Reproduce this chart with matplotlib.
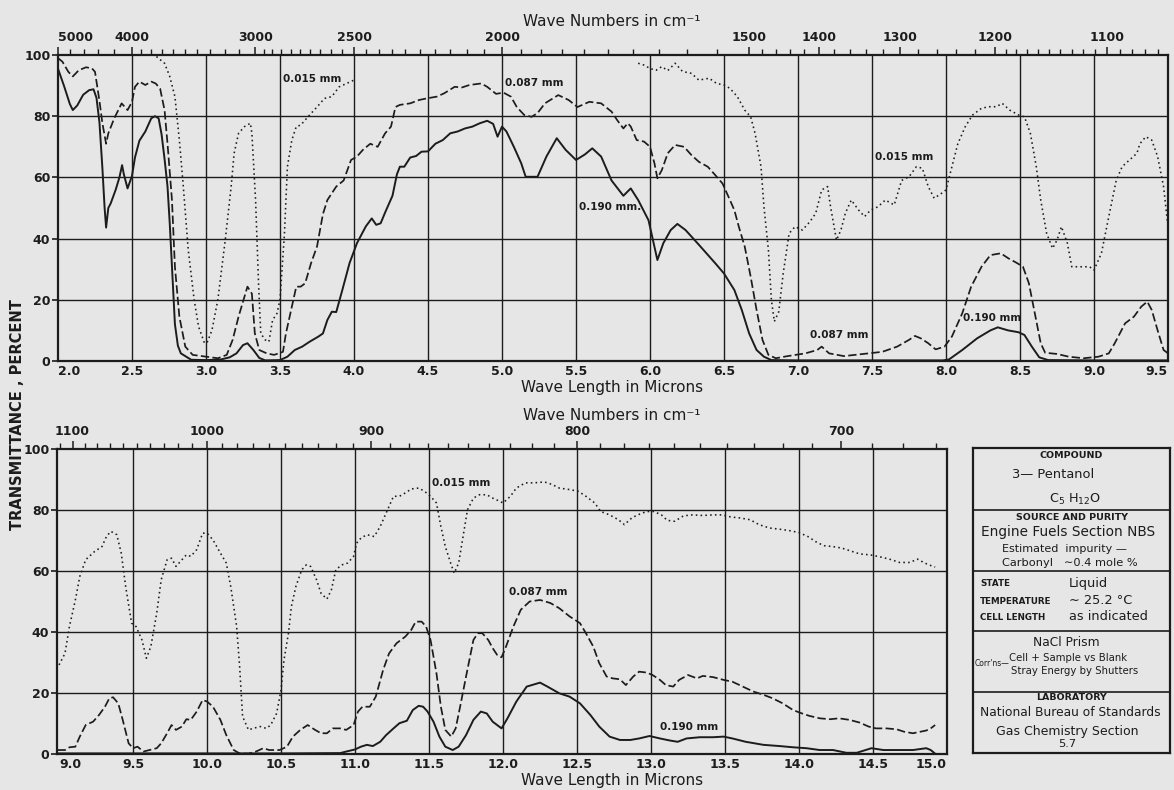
import matplotlib
matplotlib.use('Agg')
import matplotlib.pyplot as plt

# ---------------- DATA ----------------
# Upper panel (2.0 - 9.5 microns), transmittance %
solid_top_x = [2.00, 2.04, 2.08, 2.10, 2.13, 2.17, 2.21, 2.24, 2.26, 2.28, 2.30, 2.315, 2.325, 2.34, 2.356,
               2.39, 2.415, 2.433, 2.445, 2.47, 2.50, 2.52, 2.55, 2.59, 2.63, 2.655, 2.68, 2.70, 2.72, 2.74,
               2.755, 2.77, 2.79, 2.81, 2.83, 2.90, 3.00, 3.10, 3.16, 3.206, 3.25, 3.28, 3.32, 3.36, 3.40,
               3.50, 3.55, 3.60, 3.65, 3.70, 3.76, 3.79, 3.82, 3.85, 3.88, 3.92, 3.97, 4.02, 4.08, 4.12,
               4.15, 4.18, 4.21, 4.26, 4.29, 4.31, 4.34, 4.38, 4.42, 4.456, 4.50, 4.55, 4.60, 4.65, 4.70,
               4.75, 4.80, 4.85, 4.90, 4.94, 4.97, 5.00, 5.03, 5.08, 5.13, 5.16, 5.20, 5.24, 5.30, 5.37,
               5.43, 5.50, 5.56, 5.61, 5.67, 5.74, 5.82, 5.87, 5.92, 5.99, 6.03, 6.05, 6.09, 6.14, 6.185,
               6.24, 6.33, 6.44, 6.50, 6.57, 6.62, 6.67, 6.72, 6.77, 6.82, 7.00, 7.50, 7.98, 8.02, 8.11,
               8.21, 8.30, 8.35, 8.42, 8.49, 8.53, 8.58, 8.63, 8.69, 9.00, 9.50]
solid_top_y = [95.5, 90, 84, 82, 83.5, 87, 88.5, 88.8, 86, 78, 63, 50, 43.6, 50, 51.5,
               56, 60, 64, 61, 56.4, 60.5, 66.5, 72, 75, 79.3, 80, 79.3, 74, 66, 57,
               45, 31, 12, 5, 2.5, 0.4, 0.3, 0.5, 1.2, 2.5, 5.2, 5.8, 3.6, 1.0, 0.2,
               0.3, 1.4, 3.6, 4.7, 6.3, 8, 9, 13.4, 16.1, 16, 23, 32, 38.5, 44, 46.6,
               44.5, 45, 48.5, 54, 61, 63.5, 63.5, 66.5, 67, 68.4, 68.5, 71, 72.2, 74.4, 75,
               76, 76.6, 77.7, 78.5, 77.5, 73.3, 76.6, 75, 70, 64.6, 60.2, 60.2, 60.2, 66.8, 72.8,
               69, 65.7, 67.5, 69.5, 66.8, 59, 54, 56.4, 52.6, 46, 37.4, 33, 38.5, 42.8, 44.8,
               42.8, 38, 32, 28.6, 23.2, 16.7, 9, 3.6, 1.4, 0.3, 0.2, 0.2, 0.2, 0.5, 3.6,
               7.4, 10, 11, 10, 9.4, 8.5, 4.7, 1.2, 0.3, 0.2, 0.2]

dash_top_x = [2.00, 2.03, 2.07, 2.10, 2.14, 2.19, 2.23, 2.25, 2.28, 2.30, 2.325, 2.34, 2.38, 2.43, 2.47,
              2.50, 2.52, 2.55, 2.59, 2.63, 2.66, 2.69, 2.72, 2.74, 2.77, 2.79, 2.82, 2.86, 2.91, 3.00,
              3.08, 3.14, 3.18, 3.22, 3.26, 3.28, 3.31, 3.33, 3.36, 3.41, 3.46, 3.52, 3.54, 3.57, 3.61,
              3.64, 3.67, 3.71, 3.75, 3.79, 3.82, 3.88, 3.93, 3.98, 4.02, 4.06, 4.11, 4.16, 4.21, 4.25,
              4.28, 4.31, 4.38, 4.44, 4.49, 4.56, 4.61, 4.68, 4.73, 4.78, 4.86, 4.90, 4.96, 5.01, 5.06,
              5.10, 5.15, 5.20, 5.24, 5.29, 5.38, 5.45, 5.51, 5.59, 5.67, 5.74, 5.78, 5.82, 5.85, 5.87,
              5.91, 5.96, 6.00, 6.03, 6.05, 6.08, 6.12, 6.17, 6.23, 6.28, 6.33, 6.39, 6.44, 6.49, 6.53,
              6.57, 6.60, 6.64, 6.68, 6.72, 6.76, 6.80, 6.85, 6.93, 7.05, 7.13, 7.16, 7.21, 7.31, 7.44,
              7.57, 7.67, 7.75, 7.79, 7.83, 7.88, 7.93, 7.99, 8.04, 8.11, 8.17, 8.24, 8.30, 8.37, 8.42,
              8.48, 8.52, 8.56, 8.60, 8.64, 8.67, 8.75, 8.83, 8.93, 9.03, 9.10, 9.14, 9.21, 9.27, 9.32,
              9.36, 9.39, 9.43, 9.47, 9.50]
dash_top_y = [99, 97.8, 94.5, 93, 95, 96, 95.6, 94.5, 85, 77.7, 71, 74.4, 79.3, 84.2, 82,
              84.7, 89.6, 91.3, 90.2, 91.3, 90.7, 89, 82, 71, 52.6, 30.8, 14.5, 4.7, 2, 1.4,
              0.9, 2, 6.9, 14.5, 21, 24.3, 22, 9, 3.6, 2.5, 2, 3, 9, 15.6, 24.3,
              24.3, 25.4, 32, 37.4, 48, 52.6, 57, 59, 65.7, 66.8, 69, 71, 70, 74.4, 76.6,
              83, 83.7, 84.2, 85.3, 85.8, 86.4, 87.5, 89.6, 89.4, 90.2, 90.7, 89.6, 87.3, 87.7, 86.4,
              83, 80.4, 79.8, 81, 84.2, 86.9, 85.3, 83, 84.7, 84.2, 81.5, 78.6, 76, 77.7, 76.6,
              72.2, 71.7, 70, 64.6, 59.7, 62.4, 67.9, 70.6, 70, 67.3, 65.1, 63.5, 60.8, 58, 53.7,
              49.3, 43.9, 37.4, 27.6, 16.7, 6.9, 2, 0.9, 1.6, 2.5, 3.6, 4.7, 2.5, 1.6, 2.3,
              3, 4.7, 6.9, 8.2, 7.4, 5.8, 3.8, 4.7, 8, 15.6, 24.3, 30.8, 34.6, 35.2, 33.6,
              32, 30.8, 25.4, 15.6, 5.8, 2.7, 2.3, 1.4, 0.9, 1.4, 2.5, 5.8, 12.3, 14.5, 17.8,
              19.4, 16.7, 10, 3.6, 2.5]

dot_top_a_x = [2.665, 2.72, 2.755, 2.79, 2.82, 2.845, 2.88, 2.92, 2.95, 2.99, 3.01, 3.04, 3.08, 3.13,
               3.17, 3.19, 3.22, 3.26, 3.30, 3.31, 3.335, 3.355, 3.37, 3.40, 3.425, 3.45, 3.48, 3.50,
               3.53, 3.55, 3.58, 3.61, 3.64, 3.70, 3.75, 3.80, 3.85, 3.90, 3.95, 4.00]
dot_top_a_y = [99.5, 97.3, 93, 86.4, 72.2, 58, 36.3, 20, 11.2, 5.8, 6.3, 10, 20, 39.5,
               57, 67.9, 74.4, 76.6, 77.7, 74.4, 52.6, 25.4, 9, 6.9, 6.3, 13.4, 15.6, 20,
               41.6, 63.5, 72.2, 76.6, 77.1, 80.4, 83, 85.8, 86.4, 89.6, 90.7, 91.8]
dot_top_b_x = [5.92, 5.96, 6.00, 6.04, 6.08, 6.12, 6.17, 6.22, 6.28, 6.33, 6.40, 6.45, 6.50, 6.54,
               6.59, 6.64, 6.68, 6.71, 6.75, 6.77, 6.80, 6.82, 6.84, 6.87, 6.90, 6.94, 6.98, 7.03,
               7.08, 7.12, 7.16, 7.20, 7.22, 7.26, 7.29, 7.32, 7.36, 7.41, 7.45, 7.49, 7.54, 7.59,
               7.65, 7.70, 7.75, 7.80, 7.84, 7.88, 7.92, 7.97, 8.00, 8.04, 8.08, 8.13, 8.18, 8.24,
               8.29, 8.34, 8.38, 8.43, 8.49, 8.53, 8.57, 8.61, 8.64, 8.68, 8.72, 8.75, 8.78, 8.82,
               8.85, 8.91, 8.97, 9.00, 9.05, 9.10, 9.15, 9.19, 9.24, 9.29, 9.31, 9.35, 9.39, 9.43,
               9.47, 9.50]
dot_top_b_y = [97.3, 96.7, 95.6, 95, 96.2, 94.9, 97.3, 94.6, 94, 91.8, 92.4, 90.7, 90.2, 89.1,
               86.4, 82, 79.8, 74.4, 63.5, 50.4, 36.3, 20, 12.9, 16.1, 28.6, 41.7, 43.9, 42.8,
               45.5, 48.3, 55.9, 57, 50.4, 39.5, 42.8, 48.3, 52.6, 49.3, 47.2, 49.3, 50.4, 52.6,
               51, 59, 60.2, 63.5, 63, 57, 53.2, 54.8, 55.9, 63.5, 71, 76.6, 80.4, 82.6,
               83.1, 83.1, 84.2, 82, 80.4, 79.8, 74.4, 63.5, 52.6, 41.7, 36.8, 39.5, 43.9, 38.5,
               30.8, 30.8, 30.8, 29.7, 35.2, 47.2, 59, 63.5, 65.7, 67.9, 71, 73.3, 72.2, 66.8,
               57, 43.9]

# Lower panel (9.0 - 15.0 microns)
dot_bot_x = [9.00, 9.04, 9.07, 9.11, 9.14, 9.18, 9.24, 9.29, 9.32, 9.35, 9.39, 9.42, 9.45, 9.49, 9.52,
             9.56, 9.59, 9.62, 9.66, 9.69, 9.73, 9.76, 9.79, 9.83, 9.86, 9.89, 9.93, 9.97, 10.00, 10.04,
             10.09, 10.13, 10.16, 10.20, 10.22, 10.24, 10.28, 10.31, 10.36, 10.40, 10.43, 10.47, 10.50,
             10.52, 10.55, 10.57, 10.60, 10.64, 10.67, 10.70, 10.74, 10.77, 10.81, 10.84, 10.87, 10.91,
             10.95, 10.99, 11.01, 11.04, 11.08, 11.13, 11.17, 11.21, 11.26, 11.30, 11.34, 11.38, 11.43,
             11.47, 11.51, 11.55, 11.58, 11.61, 11.65, 11.67, 11.70, 11.73, 11.76, 11.80, 11.84, 11.89,
             11.93, 11.98, 12.00, 12.05, 12.09, 12.15, 12.21, 12.28, 12.33, 12.38, 12.45, 12.51, 12.56,
             12.62, 12.66, 12.72, 12.78, 12.82, 12.87, 12.91, 12.97, 13.02, 13.07, 13.11, 13.16, 13.22,
             13.28, 13.35, 13.42, 13.48, 13.54, 13.60, 13.67, 13.73, 13.80, 13.87, 13.94, 14.00, 14.06,
             14.12, 14.17, 14.23, 14.29, 14.34, 14.41, 14.48, 14.55, 14.61, 14.68, 14.75, 14.80, 14.85,
             14.89, 14.92]
dot_bot_y = [29.2, 33, 41.8, 50.5, 58.2, 63.7, 66.4, 68, 71.3, 73, 71.9, 65.9, 54.9, 42.9, 41.8,
             37.4, 31.4, 35.2, 46.2, 57.1, 63.7, 64.2, 61.5, 63.7, 65.3, 64.8, 67, 72.4, 72.4, 70.2,
             65.9, 62.6, 54.9, 41.8, 28.7, 12.3, 7.9, 8.4, 9, 8.4, 9.5, 13.3, 21,
             30.9, 39.6, 48.4, 54.9, 60.4, 62, 61.5, 57.1, 52.7, 50.8, 53.8, 60.4, 62,
             62.6, 64.8, 69.1, 70.8, 71.9, 71.3, 74.6, 79, 84.5, 84.5, 85.6, 86.9, 87.2,
             86.1, 84.5, 82.3, 74.6, 68, 62, 59.3, 62.6, 71.3, 80.1, 83.9, 85, 85,
             83.9, 82.8, 82.3, 84.5, 87.2, 88.9, 88.9, 89.2, 88.4, 87.2, 86.7, 86.1, 84.5,
             82.3, 79.5, 78.4, 76.8, 75.2, 77.4, 78.4, 79.5, 79.5, 78.4, 76.6, 76.3, 78.1,
             78.4, 78.2, 78.4, 78.4, 77.7, 77.4, 76.8, 75.2, 74.1, 73.7, 73.2, 72.6, 71.3,
             69.4, 68.3, 68, 67.5, 66.7, 65.6, 65.3, 64.6, 63.9, 62.8, 62.8, 63.9, 62.6,
             61.8, 61.3]

dash_bot_x = [8.99, 9.04, 9.07, 9.11, 9.14, 9.18, 9.23, 9.27, 9.31, 9.34, 9.365, 9.40, 9.43, 9.47, 9.50,
              9.53, 9.57, 9.61, 9.66, 9.69, 9.73, 9.76, 9.79, 9.83, 9.86, 9.89, 9.93, 9.97, 10.00, 10.04,
              10.09, 10.13, 10.18, 10.22, 10.28, 10.33, 10.38, 10.42, 10.49, 10.54, 10.58, 10.63, 10.68,
              10.73, 10.77, 10.81, 10.85, 10.90, 10.94, 10.99, 11.02, 11.05, 11.10, 11.14, 11.19, 11.23,
              11.28, 11.34, 11.38, 11.41, 11.45, 11.48, 11.51, 11.55, 11.58, 11.61, 11.65, 11.68, 11.71,
              11.75, 11.80, 11.83, 11.86, 11.90, 11.93, 11.96, 11.99, 12.02, 12.07, 12.12, 12.18, 12.25,
              12.32, 12.38, 12.45, 12.52, 12.56, 12.61, 12.65, 12.70, 12.74, 12.79, 12.83, 12.88, 12.92,
              12.97, 13.01, 13.06, 13.10, 13.15, 13.19, 13.25, 13.31, 13.35, 13.42, 13.49, 13.55, 13.62,
              13.69, 13.76, 13.82, 13.89, 13.96, 14.02, 14.07, 14.14, 14.21, 14.27, 14.34, 14.41, 14.47,
              14.52, 14.59, 14.66, 14.71, 14.77, 14.82, 14.86, 14.89, 14.92]
dash_bot_y = [1.3, 1.3, 2.2, 2.4, 5.7, 9.5, 10.6, 12.8, 15.5, 18.3, 18.6, 16.6, 11.2, 3.5, 1.9,
              2.4, 0.8, 1.3, 1.9, 3.5, 6.8, 9.5, 7.9, 9, 11.4, 11.2, 13.9, 17.7, 17.2, 15.5,
              11.2, 6.2, 1.3, 0.2, 0.1, 0.8, 1.9, 1.3, 1.3, 2.4, 5.7, 7.9, 9.5,
              7.9, 6.8, 6.8, 8.4, 8.4, 7.9, 9.5, 13.9, 15.5, 15.5, 18.8, 27.6, 33,
              36.3, 38.5, 40.7, 43.4, 43.4, 41.8, 37.4, 26.5, 15.5, 7.9, 5.7, 8.4, 15.5,
              25.4, 37.4, 39.6, 39.6, 37.4, 34.7, 32.5, 31.7, 35.2, 41.8, 47.3, 50, 50.5,
              49.5, 47.8, 45.1, 42.9, 39.6, 35.2, 29.8, 25.4, 24.8, 24.5, 22.6, 25.4, 27,
              26.7, 25.9, 24.3, 22.6, 22.1, 24.3, 25.9, 24.8, 25.6, 25.2, 24.3, 23.7, 22.1,
              20.5, 19.4, 18.3, 16.6, 14.4, 13.3, 12.5, 11.7, 11.4, 11.7, 11.2, 10.3, 9,
              8.4, 8.4, 8.1, 7.3, 6.8, 7.3, 7.7, 8.4, 9.5]

solid_bot_x = [8.99, 9.50, 10.00, 10.50, 10.90, 10.94, 11.00, 11.04, 11.08, 11.12, 11.17, 11.21, 11.26,
               11.30, 11.35, 11.39, 11.43, 11.46, 11.49, 11.53, 11.57, 11.61, 11.66, 11.70, 11.75, 11.80,
               11.85, 11.89, 11.93, 11.99, 12.03, 12.09, 12.16, 12.25, 12.30, 12.38, 12.45, 12.52, 12.59,
               12.65, 12.72, 12.79, 12.86, 12.92, 12.99, 13.06, 13.13, 13.18, 13.24, 13.33, 13.42, 13.49,
               13.55, 13.64, 13.76, 13.87, 13.96, 14.05, 14.14, 14.23, 14.32, 14.39, 14.49, 14.57, 14.68,
               14.77, 14.86, 14.89, 14.92]
solid_bot_y = [0.2, 0.2, 0.2, 0.2, 0.3, 0.8, 1.5, 2.4, 3, 2.6, 4, 6.2, 8.4,
               10.1, 10.9, 14.4, 15.8, 15.5, 13.9, 10.6, 5.7, 2.4, 1.3, 2.4, 6.2, 11.2,
               13.9, 13.3, 10.6, 8.4, 11.7, 17.2, 22.1, 23.4, 22.1, 19.9, 18.8, 16.6, 12.8,
               9, 5.7, 4.6, 4.6, 5.1, 5.9, 5.1, 4.4, 4, 5.1, 5.5, 5.5, 5.7,
               5.1, 4, 3, 2.6, 2.2, 1.9, 1.3, 1.3, 0.4, 0.4, 1.9, 1.3, 1.3,
               1.3, 1.9, 1.3, 0.1]

# Axis ticks
top_um_ticks = [2.0, 2.5, 3.0, 3.5, 4.0, 4.5, 5.0, 5.5, 6.0, 6.5, 7.0, 7.5, 8.0, 8.5, 9.0, 9.5]
bot_um_ticks = [9.0, 9.5, 10.0, 10.5, 11.0, 11.5, 12.0, 12.5, 13.0, 13.5, 14.0, 14.5, 15.0]
top_wn_major = [5000, 4000, 3000, 2500, 2000, 1500, 1400, 1300, 1200, 1100]
top_wn_minor = ([4800, 4600, 4400, 4200] + list(range(3900, 3000, -100)) + list(range(2950, 2500, -50))
                + list(range(2450, 2000, -50)) + list(range(1950, 1500, -50)) + list(range(1480, 1400, -20))
                + list(range(1380, 1300, -20)) + list(range(1280, 1200, -20)) + list(range(1190, 1100, -10))
                + list(range(1090, 1055, -10)))
bot_wn_major = [1100, 1000, 900, 800, 700]
bot_wn_minor = [w for w in range(1110, 665, -10) if w not in bot_wn_major]
y_ticks = [0, 20, 40, 60, 80, 100]

# ---------------- STYLE ----------------
BG = '#e6e6e6'
INK = '#1c1c1c'
plt.rcParams['font.family'] = ['DejaVu Sans']

fig = plt.figure(figsize=(11.74, 7.90), dpi=100, facecolor=BG)


def px_ax(l, t, r, b):
    return fig.add_axes([l / 1174, 1 - b / 790, (r - l) / 1174, (b - t) / 790])


def draw_panel(ax, xlim, um_ticks, wn_major, wn_minor):
    ax.set_facecolor(BG)
    ax.set_xlim(*xlim)
    ax.set_ylim(0, 100)
    for x in um_ticks:
        if xlim[0] + 0.02 < x < xlim[1] - 0.02:
            ax.axvline(x, color=INK, lw=1.0, zorder=1)
    for y in (20, 40, 60, 80):
        ax.axhline(y, color=INK, lw=1.0, zorder=1)
    ax.set_xticks(um_ticks)
    ax.set_xticklabels(['%.1f' % t for t in um_ticks])
    labs = ax.get_xticklabels()
    labs[0].set_ha('left')
    labs[-1].set_ha('right')
    ax.tick_params(axis='x', length=0, pad=3, labelsize=9)
    ax.set_yticks(y_ticks)
    ax.set_yticklabels([str(v) for v in y_ticks])
    ax.tick_params(axis='y', length=4, width=1.2, pad=1.5, labelsize=9, color=INK)
    for lab in ax.get_xticklabels() + ax.get_yticklabels():
        lab.set_fontweight('bold')
        lab.set_color(INK)
    for s in ax.spines.values():
        s.set_linewidth(1.6)
        s.set_color(INK)
    top = ax.twiny()
    top.set_xlim(*xlim)
    top.set_xticks([1e4 / w for w in wn_major])
    top.set_xticklabels([str(w) for w in wn_major])
    top.set_xticks([1e4 / w for w in wn_minor], minor=True)
    top.tick_params(axis='x', which='major', length=6, width=1.1, pad=2, labelsize=9, color=INK)
    top.tick_params(axis='x', which='minor', length=4, width=1.0, color=INK)
    for lab in top.get_xticklabels():
        lab.set_fontweight('bold')
        lab.set_color(INK)
    if abs(1e4 / wn_major[0] - xlim[0]) < 0.02:
        top.get_xticklabels()[0].set_ha('left')
    for s in top.spines.values():
        s.set_visible(False)
    return top


solid_kw = dict(color=INK, lw=1.4, zorder=3)
dash_kw = dict(color=INK, lw=1.25, dashes=(4.8, 1.9), zorder=3)
dot_kw = dict(color=INK, lw=1.15, dashes=(1.0, 2.0), zorder=3)
ann_kw = dict(fontsize=7.5, fontweight='bold', color=INK, ha='center', va='center', zorder=4)

# Upper panel
ax1 = px_ax(58, 55, 1168, 361)
draw_panel(ax1, (2.0, 9.5), top_um_ticks, top_wn_major, top_wn_minor)
ax1.plot(solid_top_x, solid_top_y, **solid_kw)
ax1.plot(dash_top_x, dash_top_y, **dash_kw)
ax1.plot(dot_top_a_x, dot_top_a_y, **dot_kw)
ax1.plot(dot_top_b_x, dot_top_b_y, **dot_kw)
ax1.text(3.72, 92, '0.015 mm', **ann_kw)
ax1.text(5.22, 91, '0.087 mm', **ann_kw)
ax1.text(5.73, 50.3, '0.190 mm.', **ann_kw)
ax1.text(7.72, 66.7, '0.015 mm', **ann_kw)
ax1.text(7.28, 8.5, '0.087 mm', **ann_kw)
ax1.text(8.31, 14, '0.190 mm', **ann_kw)

# Lower panel
ax2 = px_ax(57, 449, 947, 754)
draw_panel(ax2, (8.986, 15.0), bot_um_ticks, bot_wn_major, bot_wn_minor)
ax2.plot(solid_bot_x, solid_bot_y, **solid_kw)
ax2.plot(dash_bot_x, dash_bot_y, **dash_kw)
ax2.plot(dot_bot_x, dot_bot_y, **dot_kw)
ax2.text(11.72, 88.9, '0.015 mm', **ann_kw)
ax2.text(12.24, 53, '0.087 mm', **ann_kw)
ax2.text(13.26, 9, '0.190 mm', **ann_kw)

# Axis titles
fig.text(612 / 1174, 1 - 22 / 790, 'Wave Numbers in cm⁻¹', ha='center', va='center', fontsize=11, color=INK)
fig.text(612 / 1174, 1 - 388 / 790, 'Wave Length in Microns', ha='center', va='center', fontsize=11, color=INK)
fig.text(612 / 1174, 1 - 415 / 790, 'Wave Numbers in cm⁻¹', ha='center', va='center', fontsize=11, color=INK)
fig.text(612 / 1174, 1 - 780 / 790, 'Wave Length in Microns', ha='center', va='center', fontsize=11, color=INK)
fig.text(18 / 1174, 1 - 415 / 790, 'TRANSMITTANCE , PERCENT', rotation=90, ha='center', va='center',
         fontsize=10.5, fontweight='bold', color=INK)

# Info box
ax3 = px_ax(973, 448, 1170, 753)
ax3.set_facecolor(BG)
ax3.set_xlim(973, 1170)
ax3.set_ylim(753, 448)
ax3.set_xticks([])
ax3.set_yticks([])
for s in ax3.spines.values():
    s.set_linewidth(1.6)
    s.set_color(INK)
for yy in (510, 571, 631, 692):
    ax3.plot([973, 1170], [yy, yy], color=INK, lw=1.2)
cx = 1071.5
hd = dict(fontsize=6.8, fontweight='bold', color=INK, ha='center', va='center')
sm = dict(fontsize=6.3, fontweight='bold', color=INK, va='center', ha='left')


def t(x, y, s, size, ha='center', **kw):
    ax3.text(x, y, s, fontsize=size, color=INK, ha=ha, va='center', **kw)


ax3.text(cx, 455, 'COMPOUND', **hd)
t(1012, 475, '3— Pentanol', 9.4, ha='left')
t(1075, 499, 'C$_5$ H$_{12}$O', 9.2)
ax3.text(cx, 517, 'SOURCE AND PURITY', **hd)
t(1068, 532, 'Engine Fuels Section NBS', 9.8)
t(1002, 549, 'Estimated  impurity —', 8.0, ha='left')
t(1002, 563, 'Carbonyl   ∼0.4 mole %', 8.2, ha='left')
ax3.text(980, 584, 'STATE', **sm)
t(1069, 583, 'Liquid', 9.3, ha='left')
ax3.text(980, 602, 'TEMPERATURE', **sm)
t(1069, 601, '∼ 25.2 °C', 9.3, ha='left')
ax3.text(980, 618, 'CELL LENGTH', **sm)
t(1069, 617, 'as indicated', 9.3, ha='left')
t(1066, 642, 'NaCl Prism', 8.8)
t(975, 664, 'Corr\'ns—', 5.5, ha='left')
t(1009, 658, 'Cell + Sample vs Blank', 7.3, ha='left')
t(1011, 671, 'Stray Energy by Shutters', 7.3, ha='left')
ax3.text(cx, 698, 'LABORATORY', **hd)
t(1070, 712, 'National Bureau of Standards', 8.8)
t(1067, 731, 'Gas Chemistry Section', 9.0)
t(1067, 744, '5.7', 8.2)

fig.savefig('out.png', dpi=100, facecolor=BG)
